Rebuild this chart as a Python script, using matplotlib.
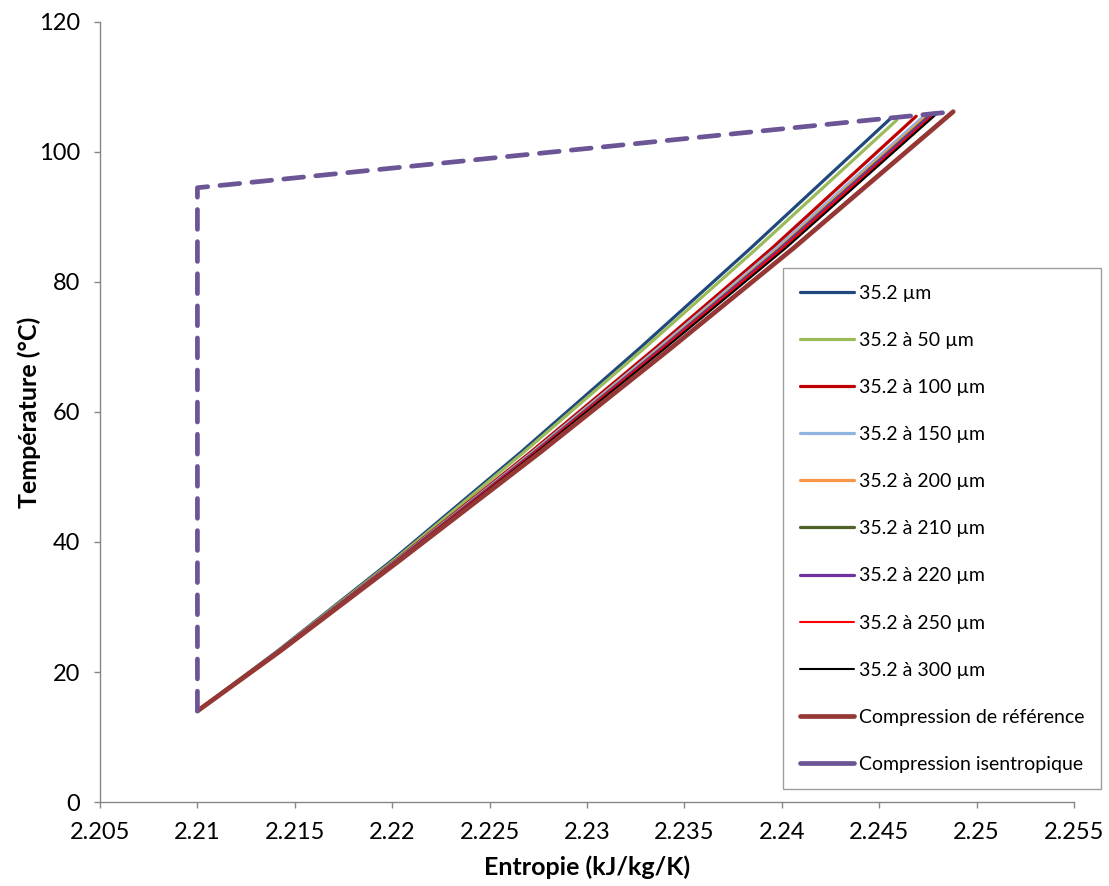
import matplotlib.pyplot as plt
from matplotlib.lines import Line2D
from matplotlib.ticker import FormatStrFormatter, FuncFormatter

plt.rcParams['font.family'] = ['Lato', 'DejaVu Sans']

# -------------------------------------------------
# Data (entropy kJ/kg/K, temperature °C)
# -------------------------------------------------
labels = ["35.2 µm", "35.2 à 50 µm", "35.2 à 100 µm", "35.2 à 150 µm",
          "35.2 à 200 µm", "35.2 à 210 µm", "35.2 à 220 µm", "35.2 à 250 µm",
          "35.2 à 300 µm", "Compression de référence"]

temp_grid = [14.0, 23.2, 37.2, 53.8, 69.8, 85.2]

s_35 = [2.2100, 2.21410, 2.22000, 2.22660, 2.23270, 2.23840, 2.2456]
s_50 = [2.2100, 2.21412, 2.22010, 2.22675, 2.23294, 2.23873, 2.2459]
s_100 = [2.2100, 2.21415, 2.22020, 2.22710, 2.23350, 2.23950, 2.2469]
s_150 = [2.2100, 2.21416, 2.22024, 2.22720, 2.23366, 2.23972, 2.2474]
s_200 = [2.2100, 2.21417, 2.22027, 2.22727, 2.23377, 2.23987, 2.2476]
s_210 = [2.2100, 2.21417, 2.22028, 2.22730, 2.23382, 2.23994, 2.2477]
s_220 = [2.2100, 2.21417, 2.22029, 2.22732, 2.23385, 2.23998, 2.2478]
s_250 = [2.2100, 2.21418, 2.22030, 2.22735, 2.23390, 2.24005, 2.2479]
s_300 = [2.2100, 2.21418, 2.22033, 2.22742, 2.23401, 2.24020, 2.2480]
s_ref = [2.2100, 2.21424, 2.22040, 2.22760, 2.23430, 2.24060, 2.2488]

# discharge temperature of each case (last point)
t_end = [105.2, 104.9, 105.5, 105.8, 105.9, 105.9, 106.0, 106.0, 106.0, 106.2]

s_isen = [2.2100, 2.2100, 2.2488]
t_isen = [14.0, 94.5, 106.2]

colors = ['#1F497D', '#9BBB59', '#C00000', '#8DB4E2', '#F79646',
          '#4F6228', '#7030A0', '#FF0000', '#000000', '#953735']
widths = [2.3, 2.3, 2.3, 2.3, 2.3, 2.3, 2.3, 1.5, 1.5, 3.4]
isen_color = '#6B5596'

series = [s_35, s_50, s_100, s_150, s_200, s_210, s_220, s_250, s_300, s_ref]

# -------------------------------------------------
# Figure
# -------------------------------------------------
fig = plt.figure(figsize=(11.09, 8.86), dpi=100)
ax = fig.add_axes([0.0902, 0.0948, 0.8782, 0.8804])

handles = []
for s, te, lab, c, w in zip(series, t_end, labels, colors, widths):
    ln, = ax.plot(s, temp_grid + [te], color=c, lw=w, label=lab,
                  solid_capstyle='round', solid_joinstyle='round')
    handles.append(ln)

ax.plot(s_isen, t_isen, color=isen_color, lw=3.4,
        dashes=(4.2, 2.6), dash_capstyle='round', dash_joinstyle='round')
# legend shows the isentropic line as a solid stroke
handles.append(Line2D([], [], color=isen_color, lw=3.4, solid_capstyle='round',
                      label="Compression isentropique"))

ax.set_xlim(2.205, 2.255)
ax.set_ylim(0, 120)
ax.set_xticks([2.205 + 0.005 * i for i in range(11)])
ax.set_yticks(range(0, 121, 20))
ax.xaxis.set_major_formatter(FuncFormatter(lambda v, p: f"{v:.3f}".rstrip('0').rstrip('.')))
ax.yaxis.set_major_formatter(FormatStrFormatter('%d'))

for side in ['top', 'right']:
    ax.spines[side].set_visible(False)
for side in ['left', 'bottom']:
    ax.spines[side].set_color('#868686')
    ax.spines[side].set_linewidth(1.0)
ax.tick_params(direction='out', length=4.5, width=1, color='#868686',
               labelsize=17, labelcolor='black')
ax.tick_params(axis='y', pad=10)
ax.tick_params(axis='x', pad=10)

ax.set_xlabel("Entropie (kJ/kg/K)", fontsize=18, fontweight='bold', labelpad=9)
ax.set_ylabel("Température (°C)", fontsize=18, fontweight='bold', labelpad=-2)

leg = ax.legend(handles=handles, loc='upper left',
                bbox_to_anchor=(783 / 1109, 1 - 268 / 886),
                bbox_transform=fig.transFigure, fontsize=14, frameon=True,
                fancybox=False, edgecolor='#868686', handlelength=2.8,
                handletextpad=0.25, labelspacing=1.55, borderpad=0.85,
                borderaxespad=0)
leg.get_frame().set_linewidth(1.0)

fig.savefig("out.png", dpi=100)
